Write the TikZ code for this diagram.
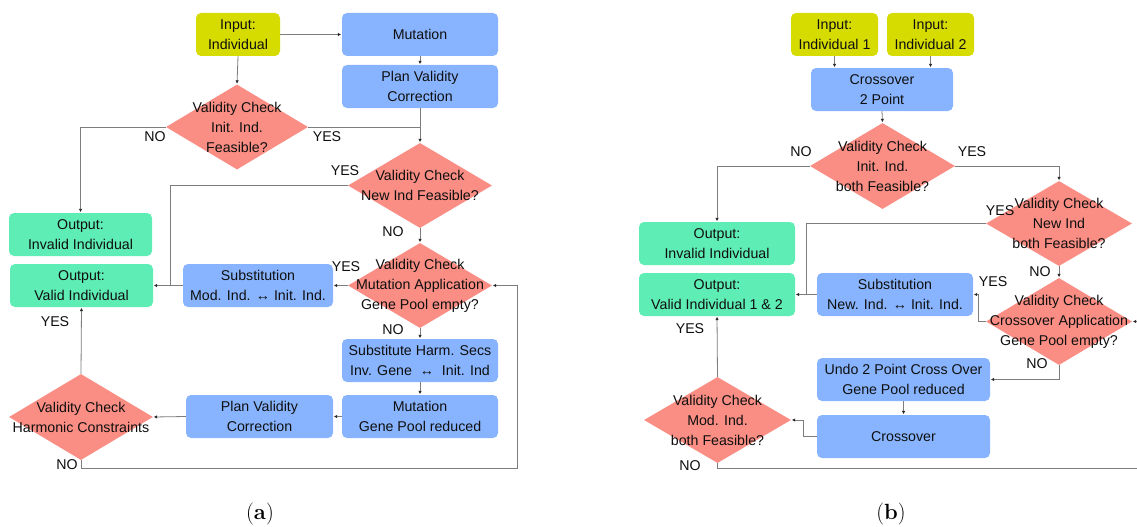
\documentclass[tikz,border=0pt]{standalone}
\usepackage{fontspec}
\newfontfamily\arialf{Liberation Sans}
\usetikzlibrary{shapes.geometric,arrows.meta}
\definecolor{yel}{RGB}{214,220,0}
\definecolor{blu}{RGB}{136,180,255}
\definecolor{dred}{RGB}{250,142,132}
\definecolor{grn}{RGB}{94,237,181}
\definecolor{txt}{RGB}{15,15,15}
\definecolor{ln}{RGB}{125,125,125}
\definecolor{tipc}{RGB}{40,40,40}
\begin{document}
\begin{tikzpicture}[x=1pt,y=-1pt,
  every node/.style={font=\arialf\fontsize{14.2}{20}\selectfont, text=txt},
  box/.style={rounded corners=5pt, draw=none, inner sep=0pt, align=center, minimum height=43pt},
  ybox/.style={box, fill=yel},
  bbox/.style={box, fill=blu},
  gbox/.style={box, fill=grn},
  dia/.style={diamond, fill=dred, draw=none, inner sep=0pt},
  lbl/.style={inner sep=0pt},
  con/.style={draw=ln, line width=0.8pt},
  arr/.style={con, -{Latex[length=3.5pt,width=3.5pt,color=tipc]}, shorten >=0.5pt},
  captext/.style={font=\fontsize{22}{26}\selectfont, text=black}
]
\useasboundingbox (0,0) rectangle (1137,527);
\fill[white] (0,0) rectangle (1137,527);

% ---------- panel (a) ----------
\node[ybox, minimum width=84pt] (inA) at (238,34.5) {Input:\\Individual};
\node[bbox, minimum width=156pt] (mutA) at (420,34.5) {Mutation};
\node[bbox, minimum width=156pt] (pvcA) at (420,86.5) {Plan Validity\\Correction};
\node[dia, minimum width=142pt, minimum height=85pt,
  label={[align=center]center:Validity Check\\Init. Ind.\\Feasible?}] (d1) at (237,127) {};
\node[dia, minimum width=144pt, minimum height=85pt,
  label={[align=center]center:Validity Check\\New Ind Feasible?}] (d2) at (420,185.5) {};
\node[dia, minimum width=144pt, minimum height=85pt,
  label={[align=center]center:Validity Check\\Mutation Application\\Gene Pool empty?}] (d3) at (420,285.5) {};
\node[bbox, minimum width=150pt] (subA) at (258,285.5) {Substitution\\Mod. Ind. ↔ Init. Ind.};
\node[gbox, minimum width=143pt] (invA) at (80.5,234.5) {Output:\\Invalid Individual};
\node[gbox, minimum width=143pt] (valA) at (81.5,285.5) {Output:\\Valid Individual};
\node[bbox, minimum width=156pt] (shA) at (420,360.5) {Substitute Harm. Secs\\Inv. Gene \ ↔ \ Init. Ind};
\node[bbox, minimum width=156pt] (mgA) at (420,416.5) {Mutation\\Gene Pool reduced};
\node[bbox, minimum width=147pt] (pv2A) at (259.5,416.5) {Plan Validity\\Correction};
\node[dia, minimum width=144pt, minimum height=86pt,
  label={[align=center]center:Validity Check\\Harmonic Constraints}] (d4) at (81,417) {};

\coordinate (jA) at (170,285.5);
\coordinate (cA) at (517,468);

\draw[arr] (inA.south) -- (d1.north);
\draw[arr] (inA.east) -- (mutA.west);
\draw[arr] (mutA.south) -- (pvcA.north);
\draw[arr] (pvcA.south) -- (d2.north);
\draw[con] (d1.east) -- (pvcA.south |- d1.east);
\draw[arr] (d1.west) -| (invA.north);
\draw[con] (d2.west) -| (jA);
\draw[arr] (subA.west) -- (valA.east);
\draw[arr] (d2.south) -- (d3.north);
\draw[arr] (d3.west) -- (subA.east);
\draw[arr] (d3.south) -- (shA.north);
\draw[arr] (shA.south) -- (mgA.north);
\draw[arr] (mgA.west) -- (pv2A.east);
\draw[arr] (pv2A.west) -- (d4.east);
\draw[arr] (d4.north) -- (valA.south);
\draw[arr] (d4.south) |- (cA) |- (d3.east);

\node[lbl] (nA1) at (155,137) {NO};
\node[lbl] (yA1) at (327,137) {YES};
\node[lbl] (yA2) at (345,171) {YES};
\node[lbl] (nA2) at (393,232) {NO};
\node[lbl] (yA3) at (346,267) {YES};
\node[lbl] (nA3) at (393,330) {NO};
\node[lbl] (yA4) at (55,322) {YES};
\node[lbl] (nA4) at (67,465) {NO};

% ---------- panel (b) ----------
\node[ybox, minimum width=87pt] (in1) at (834.5,34.5) {Input:\\Individual 1};
\node[ybox, minimum width=87pt] (in2) at (930.5,34.5) {Input:\\Individual 2};
\node[bbox, minimum width=142pt] (cx) at (882,89.5) {Crossover\\2 Point};
\node[dia, minimum width=145pt, minimum height=86pt,
  label={[align=center]center:Validity Check\\Init. Ind.\\both Feasible?}] (d5) at (882.5,166) {};
\node[dia, minimum width=146pt, minimum height=85pt,
  label={[align=center]center:Validity Check\\New Ind\\both Feasible?}] (d6) at (1059,223.5) {};
\node[gbox, minimum width=156pt] (invB) at (717,243.5) {Output:\\Invalid Individual};
\node[gbox, minimum width=156pt] (valB) at (717,294.5) {Output:\\Valid Individual 1 \& 2};
\node[dia, minimum width=146pt, minimum height=87pt,
  label={[align=center]center:Validity Check\\Crossover Application\\Gene Pool empty?}] (d7) at (1059,321.5) {};
\node[bbox, minimum width=156pt] (subB) at (895,294.5) {Substitution\\New. Ind. ↔ Init. Ind.};
\node[bbox, minimum width=173pt] (undo) at (903.5,379.5) {Undo 2 Point Cross Over\\Gene Pool reduced};
\node[bbox, minimum width=173pt] (crs) at (903.5,436.5) {Crossover};
\node[dia, minimum width=147pt, minimum height=86pt,
  label={[align=center]center:Validity Check\\Mod. Ind.\\both Feasible?}] (d8) at (717.5,420) {};

\coordinate (jB) at (806,294.5);
\coordinate (kB) at (978,321.5);
\coordinate (mB) at (803,436.5);
\coordinate (eB) at (1141,468);

\draw[arr] (in1.south) -- (in1.south |- cx.north);
\draw[arr] (in2.south) -- (in2.south |- cx.north);
\draw[arr] (cx.south) -- (d5.north);
\draw[arr] (d5.west) -| (invB.north);
\draw[arr] (d5.east) -| (d6.north);
\draw[con] (d6.west) -| (jB);
\draw[arr] (subB.west) -- (valB.east);
\draw[arr] (d6.south) -- (d7.north);
\draw[arr] (d7.west) -- (kB) |- (subB.east);
\draw[arr] (d7.south) |- (undo.east);
\draw[arr] (undo.south) -- (crs.north);
\draw[arr] (crs.west) -- (mB) |- (d8.east);
\draw[arr] (d8.north) -- (valB.south);
\draw[arr] (d8.south) |- (eB) |- (d7.east);

\node[lbl] (nB1) at (801,152) {NO};
\node[lbl] (yB1) at (972,152) {YES};
\node[lbl] (yB2) at (1000,211) {YES};
\node[lbl] (nB2) at (1040,272) {NO};
\node[lbl] (yB3) at (993,282) {YES};
\node[lbl] (nB3) at (1037,364) {NO};
\node[lbl] (yB4) at (690,329) {YES};
\node[lbl] (nB4) at (690,466) {NO};

% ---------- captions ----------
\node[captext] (capA) at (260,514) {(\textbf{a})};
\node[captext] (capB) at (891,514) {(\textbf{b})};
\end{tikzpicture}
\end{document}
